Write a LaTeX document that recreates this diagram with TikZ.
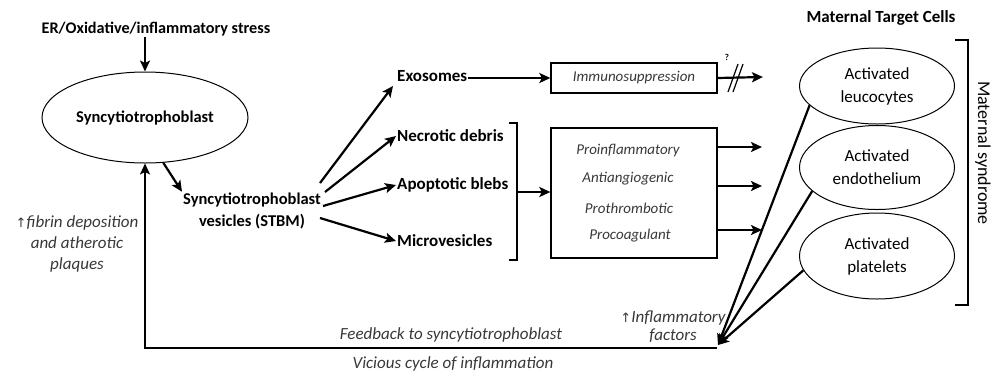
\documentclass[tikz,border=0pt]{standalone}
\usepackage{fontspec}
\setmainfont{Carlito}
\newfontfamily\dvsans{DejaVu Sans}
\usetikzlibrary{shapes.geometric,arrows.meta}
\begin{document}
\begin{tikzpicture}[x=1pt,y=-1pt,
  arr/.style={-{Stealth[length=11pt,width=10pt,inset=2.5pt]}, line width=2.2pt},
  lbl/.style={font=\fontsize{16.5}{22}\selectfont\bfseries, inner sep=1pt},
  vlbl/.style={font=\fontsize{17}{22}\selectfont\bfseries, inner sep=1pt, anchor=west},
  itl/.style={font=\fontsize{15}{21}\selectfont\itshape, text=black!78, inner sep=1pt},
  bitl/.style={font=\fontsize{17}{21}\selectfont\itshape, text=black!78, inner sep=1pt},
  cell/.style={ellipse, draw, line width=1pt, minimum width=155pt, align=center,
    font=\fontsize{17}{23}\selectfont, inner sep=0pt},
  boxx/.style={draw, line width=1.3pt, inner sep=0pt},
  brack/.style={line width=1.8pt}]
\useasboundingbox (0,0) rectangle (1000,373);

% left part
\node[lbl, font=\fontsize{16.2}{20}\selectfont\bfseries] (stress) at (156,29) {ER/Oxidative/inflammatory stress};
\node[ellipse, draw, line width=1pt, minimum width=206pt, minimum height=91pt,
  font=\fontsize{16.5}{20}\selectfont\bfseries, inner sep=0pt] (syn) at (145,117.5) {Syncytiotrophoblast};
\node[lbl, align=center] (stbm) at (252,211) {Syncytiotrophoblast\\vesicles (STBM)};
\node[bitl, align=center] (fib) at (77,244) {{\dvsans\fontsize{13}{21}\selectfont ↑}fibrin deposition\\and atherotic\\plaques};

% vesicle types
\node[vlbl] (exo) at (396,76) {Exosomes};
\node[vlbl] (nec) at (396,136) {Necrotic debris};
\node[vlbl] (apo) at (396,185) {Apoptotic blebs};
\node[vlbl] (mic) at (396,241) {Microvesicles};

% effect boxes
\node[boxx, minimum width=166pt, minimum height=30pt, itl, inner sep=0pt] (imm) at (634,78) {Immunosuppression};
\node[boxx, minimum width=166pt, minimum height=130pt] (eff) at (634,193) {};
\node[itl] (pro) at (628,151) {Proinflammatory};
\node[itl] (anti) at (628,179) {Antiangiogenic};
\node[itl] (proth) at (629,208) {Prothrombotic};
\node[itl] (proco) at (630,236) {Procoagulant};

% maternal target cells
\node[lbl, font=\fontsize{17}{20}\selectfont\bfseries] (mtc) at (881,18) {Maternal Target Cells};
\node[cell, minimum height=76pt] (leu) at (877,86) {Activated\\leucocytes};
\node[cell, minimum height=84pt] (endo) at (877,167.5) {Activated\\endothelium};
\node[cell, minimum height=86pt] (plat) at (877,256) {Activated\\platelets};
\node[font=\fontsize{18}{20}\selectfont, rotate=-90, inner sep=0pt] (msyn) at (983,153) {Maternal syndrome};

% bottom texts
\node[bitl] (feed) at (451,335) {Feedback to syncytiotrophoblast};
\node[bitl] (vic) at (453,364) {Vicious cycle of inflammation};
\node[bitl, align=center, font=\fontsize{17}{18}\selectfont\itshape] (infl) at (673,327) {{\dvsans\fontsize{13}{18}\selectfont ↑}Inflammatory\\factors};
\node[font=\fontsize{9}{10}\selectfont\bfseries, inner sep=0pt] (q) at (727,57) {?};

% coordinates
\coordinate (brk) at (517,192);
\coordinate (immend) at (763,77);
\coordinate (o1) at (762,147);
\coordinate (o2) at (762,186);
\coordinate (o3) at (762,230);
\coordinate (fb) at (718,345);
\coordinate (fbl) at (717,348);

% connectors
\draw[arr] (syn.north |- stress.south) -- (syn.north);
\draw[arr] (syn.-68) -- (stbm.north west);
\draw[arr] ([shift={(68,-28)}]stbm.center) -- ([shift={(-3,10)}]exo.west);
\draw[arr] ([shift={(73,-19)}]stbm.center) -- (nec.west);
\draw[arr] ([shift={(71,-5)}]stbm.center) -- (apo.west);
\draw[arr] ([shift={(68,7)}]stbm.center) -- (mic.west);
\draw[arr] (exo.east |- imm.west) -- (imm.west);
\draw[arr] (imm.east) -- (immend);
\draw[line width=1.2pt] (728,92) -- (738,64) (733,92) -- (743,64);
\draw[brack] (509,123) -- (517,123) -- (517,260) -- (509,260);
\draw[arr] (brk) -- (brk -| eff.west);
\draw[arr] (eff.east |- o1) -- (o1);
\draw[arr] (eff.east |- o2) -- (o2);
\draw[arr] (eff.east |- o3) -- (o3);
\draw[brack] (955,40) -- (968,40) -- (968,305) -- (955,305);
\draw[arr] (leu.196) -- (fb);
\draw[arr] (endo.200) -- (fb);
\draw[arr] (plat.191) -- (fb);
\draw[arr, line width=2pt] (fbl) -| (syn.south);
\end{tikzpicture}
\end{document}
